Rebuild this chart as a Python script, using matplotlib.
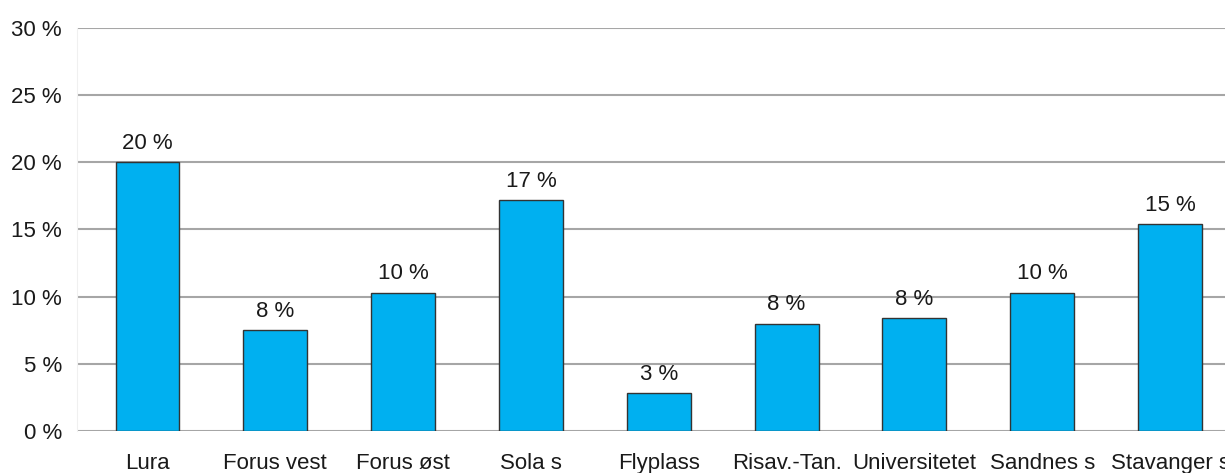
import matplotlib.pyplot as plt
from matplotlib import font_manager

stasjoner = ['Lura', 'Forus vest', 'Forus øst', 'Sola s', 'Flyplass',
             'Risav.-Tan.', 'Universitetet', 'Sandnes s', 'Stavanger s']
andel = [20.0, 7.5, 10.3, 17.2, 2.8, 8.0, 8.4, 10.3, 15.4]
y_ticks = [0, 5, 10, 15, 20, 25, 30]

navn = [f.name for f in font_manager.fontManager.ttflist]
if 'Liberation Sans Narrow' in navn:
    plt.rcParams['font.family'] = ['Liberation Sans Narrow', 'DejaVu Sans']
else:
    plt.rcParams['font.family'] = ['Liberation Sans', 'DejaVu Sans']

fig = plt.figure(figsize=(12.25, 4.73), dpi=100)
ax = fig.add_axes([0.063, 0.0888, 0.937, 0.852])

x = range(len(stasjoner))
bars = ax.bar(x, andel, width=0.5, color='#00B0F0', edgecolor='#333333',
              linewidth=1.0, zorder=3)
for b, v in zip(bars, andel):
    ax.annotate(f'{round(v)} %', (b.get_x() + b.get_width() / 2, v),
                xytext=(0, 6), textcoords='offset points',
                ha='center', va='bottom', fontsize=16, color='#1a1a1a')

ax.set_ylim(0, 30)
ax.set_xlim(-0.55, 8.43)
ax.set_yticks(y_ticks)
ax.set_yticklabels([f'{t} %' for t in y_ticks])
ax.set_xticks(list(x))
ax.set_xticklabels(stasjoner)
ax.tick_params(axis='both', length=0, labelsize=16, colors='#1a1a1a')
ax.tick_params(axis='y', pad=11)
ax.tick_params(axis='x', pad=16)
ax.yaxis.grid(True, color='#a6a6a6', linewidth=1.5, zorder=0)
for s in ['top', 'right', 'bottom']:
    ax.spines[s].set_visible(False)
ax.spines['left'].set_color('#f0f0f0')

fig.savefig('out.png', dpi=100)
